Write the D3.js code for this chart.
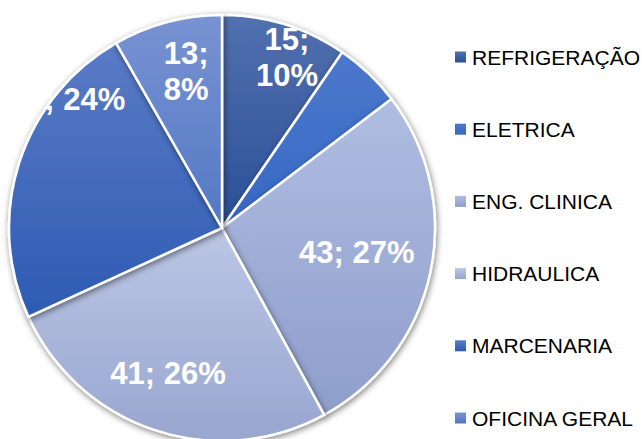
<!DOCTYPE html>
<html>
<head>
<meta charset="utf-8">
<script src="https://cdn.jsdelivr.net/npm/d3@7"></script>
<style>
  html, body { margin: 0; padding: 0; background: #fff; }
  svg { display: block; }
</style>
</head>
<body>
<svg id="chart" width="642" height="439"></svg>
<script>
// data
var categories = ["REFRIGERAÇÃO", "ELETRICA", "ENG. CLINICA", "HIDRAULICA", "MARCENARIA", "OFICINA GERAL"];
var values = [15, 8, 43, 41, 37, 13];
var hiddenLabels = ["ELETRICA"];

// look
var colorsTop = ["#5270ae", "#4c78cc", "#b0bde2", "#bcc6e5", "#5a7bc6", "#7893d2"];
var colorsBottom = ["#2a4f98", "#3568c4", "#8e9ecb", "#98a6d0", "#2d5bb3", "#5477c4"];
// label placement: [angle in degrees, radius], and whether to break after ";"
var labelPolar = [[20.8, 183], null, [100.3, 137], [200.4, 155], [309.8, 201], [-12.9, 161]];
var labelWrap = [true, false, false, false, false, true];

var cx = 222, cy = 228, radius = 213;
var svg = d3.select("#chart");

var defs = svg.append("defs");
var shadow = defs.append("filter")
    .attr("id", "shadow")
    .attr("x", "-20%").attr("y", "-20%")
    .attr("width", "140%").attr("height", "140%");
shadow.append("feDropShadow")
    .attr("dx", 1)
    .attr("dy", 2)
    .attr("stdDeviation", 3)
    .attr("flood-color", "#000")
    .attr("flood-opacity", 0.5);

categories.forEach(function (c, i) {
    var g = defs.append("linearGradient")
        .attr("id", "grad" + i)
        .attr("x1", 0).attr("y1", 0)
        .attr("x2", 0).attr("y2", 1);
    g.append("stop").attr("offset", "0%").attr("stop-color", colorsTop[i]);
    g.append("stop").attr("offset", "100%").attr("stop-color", colorsBottom[i]);
});

var total = d3.sum(values);
var pie = d3.pie().sort(null).value(function (d) { return d.value; });
var arc = d3.arc().innerRadius(0).outerRadius(radius);

var rows = categories.map(function (c, i) { return { name: c, value: values[i], index: i }; });
var arcs = pie(rows);

var pieG = svg.append("g").attr("transform", "translate(" + cx + "," + cy + ")");

pieG.selectAll("path.slice")
    .data(arcs)
    .enter().append("path")
    .attr("class", "slice")
    .attr("d", arc)
    .attr("fill", function (d) { return "url(#grad" + d.data.index + ")"; })
    .attr("stroke", "#fff")
    .attr("stroke-width", 2.5)
    .attr("stroke-linejoin", "round")
    .attr("filter", "url(#shadow)");

var labels = pieG.selectAll("text.label")
    .data(arcs.filter(function (d) { return hiddenLabels.indexOf(d.data.name) < 0; }))
    .enter().append("text")
    .attr("class", "label")
    .attr("text-anchor", "middle")
    .attr("font-family", "Liberation Sans, Arial, sans-serif")
    .attr("font-weight", "bold")
    .attr("font-size", 31)
    .attr("fill", "#fff");

labels.each(function (d) {
    var i = d.data.index;
    var p = d3.pointRadial(labelPolar[i][0] * Math.PI / 180, labelPolar[i][1]);
    var pct = Math.round(d.data.value / total * 100) + "%";
    var t = d3.select(this);
    if (labelWrap[i]) {
        t.append("tspan").attr("x", p[0]).attr("y", p[1] + 11 - 18).text(d.data.value + ";");
        t.append("tspan").attr("x", p[0]).attr("y", p[1] + 11 + 18).text(pct);
    } else {
        t.attr("x", p[0]).attr("y", p[1] + 11).text(d.data.value + "; " + pct);
    }
});

// legend
var legendY = d3.scalePoint().domain(categories).range([57, 418]);
var legend = svg.append("g")
    .selectAll("g")
    .data(categories)
    .enter().append("g")
    .attr("transform", function (d) { return "translate(455," + legendY(d) + ")"; });

legend.append("rect")
    .attr("x", 0)
    .attr("y", -5.5)
    .attr("width", 11)
    .attr("height", 11)
    .attr("fill", function (d, i) { return "url(#grad" + i + ")"; });

legend.append("text")
    .attr("x", 17)
    .attr("y", 7.5)
    .attr("font-family", "Liberation Sans, Arial, sans-serif")
    .attr("font-size", 21)
    .attr("fill", "#000")
    .text(function (d) { return d; });
</script>
</body>
</html>
